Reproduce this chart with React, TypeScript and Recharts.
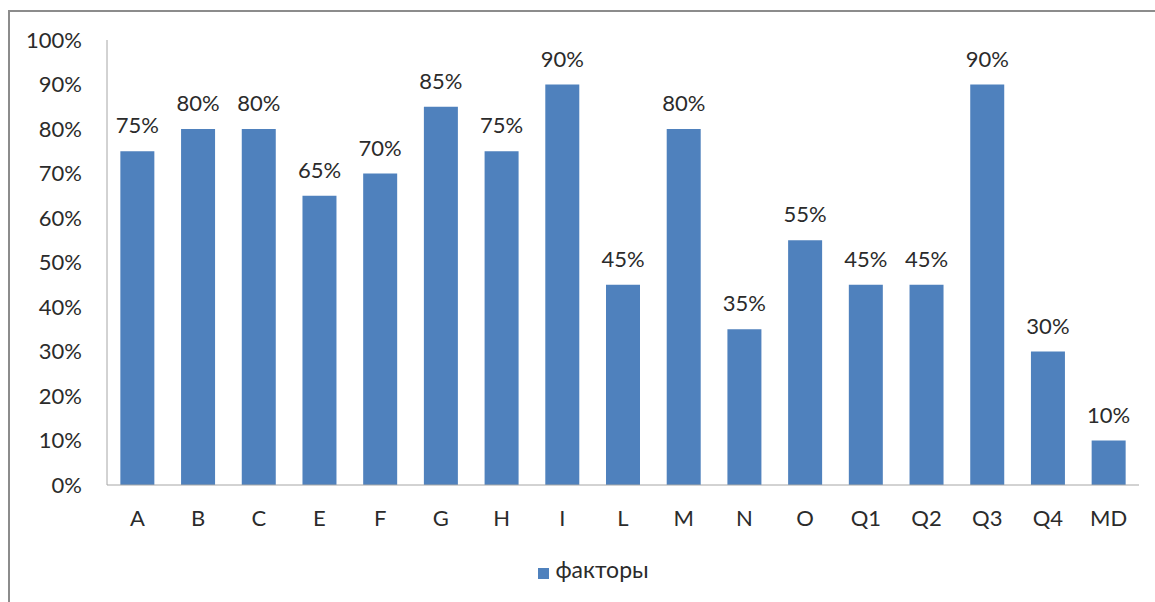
import React from 'react';
import { BarChart, Bar, XAxis, YAxis, Legend, LabelList } from 'recharts';

const factors = ['A', 'B', 'C', 'E', 'F', 'G', 'H', 'I', 'L', 'M', 'N', 'O', 'Q1', 'Q2', 'Q3', 'Q4', 'MD'];
const shares = [75, 80, 80, 65, 70, 85, 75, 90, 45, 80, 35, 55, 45, 45, 90, 30, 10];
const yTicks = [0, 10, 20, 30, 40, 50, 60, 70, 80, 90, 100];

const data = factors.map((name, i) => ({ name, value: shares[i] }));

const font = 'Lato, "Open Sans", sans-serif';
const textColor = '#2b2b2b';
const pct = (v: any) => `${v}%`;

export default function App() {
  return (
    <div style={{ position: 'fixed', left: 0, top: 0, width: 1155, height: 602, overflow: 'hidden', background: '#fff', fontFamily: font }}>
      <div
        style={{
          position: 'absolute',
          left: 8,
          top: 10,
          width: 1300,
          height: 800,
          borderTop: '2px solid #8c8c8c',
          borderLeft: '2px solid #8c8c8c',
        }}
      />
      <BarChart
        width={1155}
        height={602}
        data={data}
        margin={{ top: 40, right: 16, bottom: 0, left: 0 }}
        barCategoryGap="22%"
      >
        <XAxis
          dataKey="name"
          height={117}
          tickLine={false}
          tickSize={0}
          tickMargin={25}
          axisLine={{ stroke: '#a6a6a6' }}
          tick={{ fill: textColor, fontSize: 22, fontFamily: font }}
        />
        <YAxis
          width={107}
          domain={[0, 100]}
          ticks={yTicks}
          interval={0}
          tickFormatter={pct}
          tickLine={false}
          tickSize={0}
          tickMargin={25}
          axisLine={{ stroke: '#a6a6a6' }}
          tick={{ fill: textColor, fontSize: 22, fontFamily: font }}
        />
        <Legend
          layout="horizontal"
          verticalAlign="middle"
          align="center"
          iconType="square"
          iconSize={11}
          wrapperStyle={{ top: 555, left: 21, width: 1155 }}
          formatter={(v) => <span style={{ color: textColor, fontSize: 23, fontFamily: font, marginLeft: 2 }}>{v}</span>}
        />
        <Bar dataKey="value" name="факторы" fill="#4f81bd" isAnimationActive={false}>
          <LabelList dataKey="value" position="top" offset={18} formatter={pct} fill={textColor} fontSize={22} fontFamily={font} />
        </Bar>
      </BarChart>
    </div>
  );
}
